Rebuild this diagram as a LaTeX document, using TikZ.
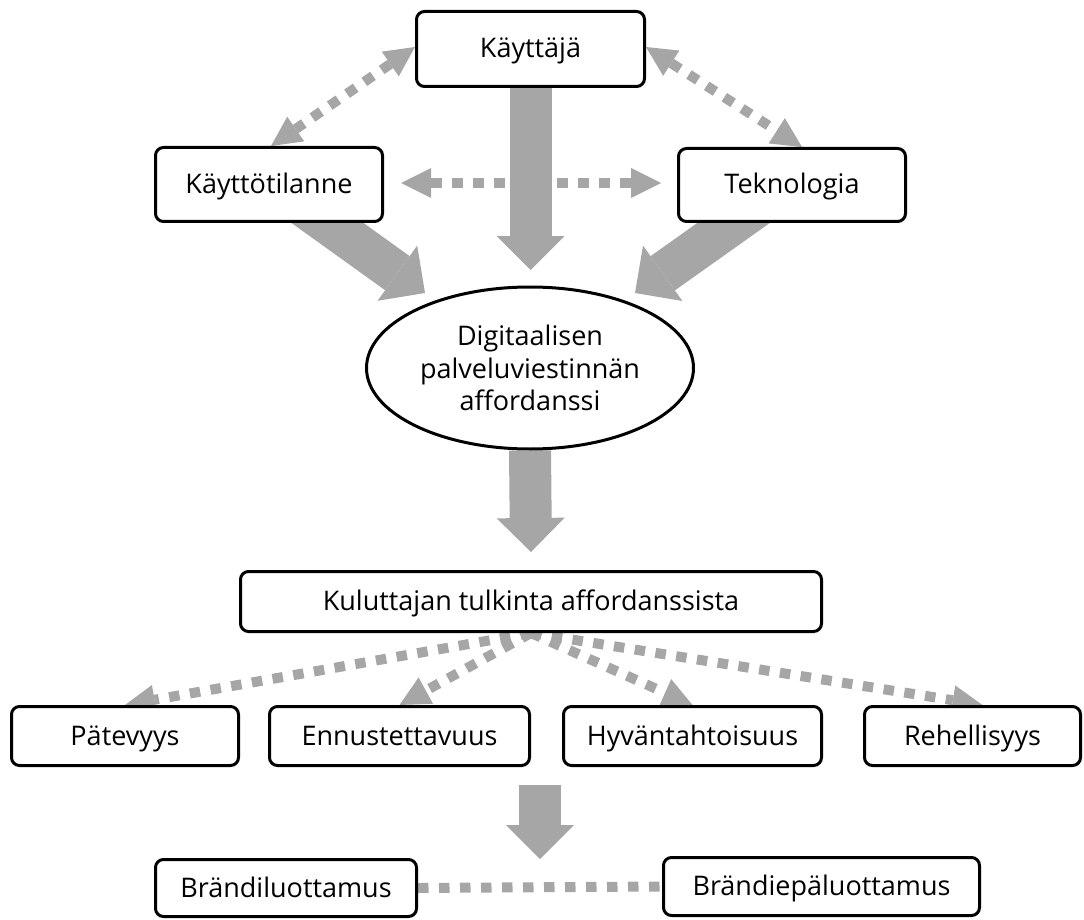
\documentclass[tikz,border=0pt]{standalone}
\usepackage{fontspec}
\setmainfont{Open Sans}
\usetikzlibrary{arrows.meta,shapes.geometric,calc}
\definecolor{arrowgray}{HTML}{A6A6A6}
\pgfdeclarelayer{bg}
\pgfsetlayers{bg,main}
\begin{document}
\begin{tikzpicture}[x=1pt,y=-1pt,
  box/.style={draw=black, line width=3pt, rounded corners=8pt, fill=white,
    inner sep=0pt, text height=24pt, text depth=6pt,
    font=\fontsize{27}{32}\selectfont, align=center},
  oval/.style={ellipse, draw=black, line width=3pt, fill=white,
    inner sep=0pt, font=\fontsize{27}{32.5}\selectfont, align=center},
  bigarrow/.style={draw=arrowgray, line width=42pt,
    -{Triangle[length=34pt,width=68pt,line width=0pt]}},
  dotline/.style={draw=arrowgray, line width=10pt, dash pattern=on 10.5pt off 10.5pt},
  dotboth/.style={dotline,
    {Triangle[length=30pt,width=30pt,line width=0pt]}-{Triangle[length=30pt,width=30pt,line width=0pt]}},
  dotone/.style={dotline, -{Triangle[length=30pt,width=30pt,line width=0pt]}}]

\path[use as bounding box] (0,0) rectangle (1084,920);

% boxes
\node[box, minimum width=228pt, minimum height=75pt] (kay) at (530.5,49) {Käyttäjä};
\node[box, minimum width=227pt, minimum height=74pt] (kt) at (269,184.5) {Käyttötilanne};
\node[box, minimum width=227pt, minimum height=73pt] (tek) at (792,185) {Teknologia};
\node[oval, minimum width=327pt, minimum height=162pt] (ell) at (530,368)
  {Digitaalisen\\palveluviestinnän\\affordanssi};
\node[box, minimum width=581pt, minimum height=60pt] (kul) at (531,601.5) {Kuluttajan tulkinta affordanssista};
\node[box, minimum width=227pt, minimum height=59pt] (pat) at (125,736) {Pätevyys};
\node[box, minimum width=260pt, minimum height=59pt] (enn) at (399.5,736) {Ennustettavuus};
\node[box, minimum width=258pt, minimum height=59pt] (hyv) at (692.5,736) {Hyväntahtoisuus};
\node[box, minimum width=216pt, minimum height=59pt] (reh) at (972.5,736) {Rehellisyys};
\node[box, minimum width=261pt, minimum height=57pt] (br1) at (286,888) {Brändiluottamus};
\node[box, minimum width=316pt, minimum height=58pt] (br2) at (821.5,886.5) {Brändiepäluottamus};

% free arrow ends
\coordinate (tipKay) at (530.5,270);
\coordinate (tipKt) at (425,293);
\coordinate (tipTek) at (635,293);
\coordinate (tipEll) at (531,552);
\coordinate (trustTop) at (540,785);
\coordinate (trustTip) at (540,859);
% where the slanted block arrows leave the boxes
\coordinate (ktOut) at ($(kt.south)+(58.5,0)$);
\coordinate (tekOut) at ($(tek.south)-(58.5,0)$);

\begin{pgfonlayer}{bg}
  % solid block arrows (tails tucked under the boxes)
  \draw[bigarrow] (kay.south) -- (tipKay);
  \draw[bigarrow] ($(ktOut)!-0.35!(tipKt)$) -- (tipKt);
  \draw[bigarrow] ($(tekOut)!-0.35!(tipTek)$) -- (tipTek);
  \draw[bigarrow] (ell.south) -- (tipEll);
  \draw[bigarrow] (trustTop) -- (trustTip);

  % dotted links between the three sources
  \draw[dotboth] ($(kay.west)+(0,-2)$) -- ($(kt.north)+(2,0)$);
  \draw[dotboth] ($(kay.east)+(0,-2)$) -- ($(tek.north)+(10,0)$);
  \draw[dotboth] ($(kt.east)+(17,-1.5)$) -- ($(tek.west)+(-16,-2)$);

  % dotted fan to the four trust dimensions
  \draw[dotone] (kul.south) -- (pat.north);
  \draw[dotone] (kul.south) -- (enn.north);
  \draw[dotone] (kul.south) -- (hyv.north);
  \draw[dotone] (kul.south) -- ($(reh.north)+(10,0)$);

  % dotted link between trust and distrust
  \draw[dotline] (br1.east) -- (br2.west);
\end{pgfonlayer}
\end{tikzpicture}
\end{document}
